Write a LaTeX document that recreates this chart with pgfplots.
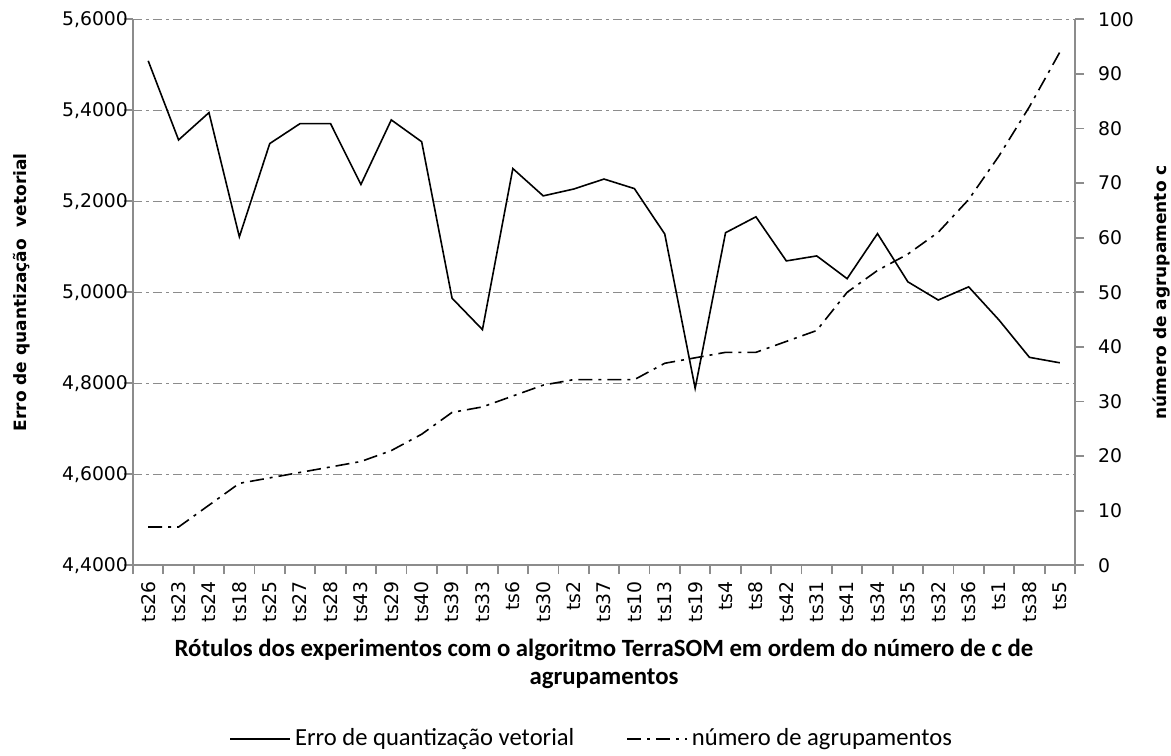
\documentclass[border=0pt]{standalone}
\usepackage{pgfplots}
\pgfplotsset{compat=1.18}
\usepackage{fontspec}
\setmainfont{DejaVu Sans}
\newfontfamily\calibri{Carlito}

\definecolor{axgray}{gray}{0.55}

\pgfplotsset{
  base/.style={
    width=471pt, height=272.9pt, scale only axis,
    xmin=-0.5, xmax=30.5,
    axis line style={axgray, line width=0.9pt},
    tick style={axgray, line width=0.9pt},
    tick align=outside,
    major tick length=4.5pt,
    tick label style={font=\fontsize{9.4}{11}\selectfont, black},
    /pgf/number format/assume math mode=true,
  },
}

\begin{document}
\begin{tikzpicture}
\begin{axis}[base, name=ax,
  axis x line*=bottom, axis y line*=left,
  ymin=4.4, ymax=5.6,
  ytick={4.4,4.6,4.8,5.0,5.2,5.4,5.6},
  yticklabel style={xshift=5.5pt, /pgf/number format/.cd, fixed, fixed zerofill, precision=4, use comma},
  ymajorgrids,
  grid style={axgray, line width=0.6pt, dash pattern=on 4.5pt off 2pt on 1.5pt off 2pt},
  xtick={-0.5,0.5,...,30.5},
  x tick label as interval,
  xticklabels={ts26,ts23,ts24,ts18,ts25,ts27,ts28,ts43,ts29,ts40,ts39,ts33,ts6,ts30,ts2,ts37,ts10,ts13,ts19,ts4,ts8,ts42,ts31,ts41,ts34,ts35,ts32,ts36,ts1,ts38,ts5},
  xticklabel style={rotate=90, anchor=east},
  xlabel={Rótulos dos experimentos com o algoritmo TerraSOM em ordem do número de c de\\agrupamentos},
  xlabel style={at={(axis description cs:0.5,-0.181)}, anchor=center, align=center,
    font=\calibri\bfseries\fontsize{12.4}{14}\selectfont},
  ylabel={Erro de quantização\ \ vetorial},
  ylabel style={at={(axis description cs:-0.118,0.5)}, anchor=center,
    font=\bfseries\fontsize{8.5}{10}\selectfont},
]
\addplot[black, line width=0.8pt] coordinates {
(0,5.509) (1,5.335) (2,5.395) (3,5.122) (4,5.327) (5,5.371) (6,5.371) (7,5.237)
(8,5.379) (9,5.331) (10,4.987) (11,4.918) (12,5.272) (13,5.212) (14,5.227) (15,5.249)
(16,5.228) (17,5.128) (18,4.789) (19,5.131) (20,5.166) (21,5.069) (22,5.080) (23,5.030)
(24,5.129) (25,5.023) (26,4.983) (27,5.012) (28,4.939) (29,4.857) (30,4.845)
};
\end{axis}

\begin{axis}[base,
  axis x line=none, axis y line*=right,
  ymin=0, ymax=100, ytick={0,10,...,100},
  yticklabel style={xshift=3.5pt},
  ylabel={número de agrupamento c},
  ylabel style={at={(axis description cs:1.092,0.5)}, anchor=center,
    font=\bfseries\fontsize{8.5}{10}\selectfont},
  legend columns=2,
  legend style={at={(axis description cs:0.488,-0.318)}, anchor=center, draw=none,
    fill=none, font=\calibri\fontsize{12.3}{14}\selectfont,
    /tikz/every even column/.append style={column sep=24pt}},
  legend image code/.code={\draw[#1] (0pt,0pt) -- (30pt,0pt);},
]
\addlegendimage{black, line width=0.8pt}
\addlegendentry{Erro de quantização vetorial}
\addplot[black, line width=0.8pt, dash pattern=on 7pt off 3pt on 1.5pt off 3pt] coordinates {
(0,7) (1,7) (2,11) (3,15) (4,16) (5,17) (6,18) (7,19) (8,21) (9,24) (10,28)
(11,29) (12,31) (13,33) (14,34) (15,34) (16,34) (17,37) (18,38) (19,39) (20,39)
(21,41) (22,43) (23,50) (24,54) (25,57) (26,61) (27,67) (28,75) (29,84) (30,94)
};
\addlegendentry{número de agrupamentos}
\end{axis}

\pgfresetboundingbox
\path[use as bounding box] ([shift={(-66.5pt,-95pt)}]ax.south west) rectangle ([shift={(48pt,9.7pt)}]ax.north east);
\end{tikzpicture}
\end{document}
